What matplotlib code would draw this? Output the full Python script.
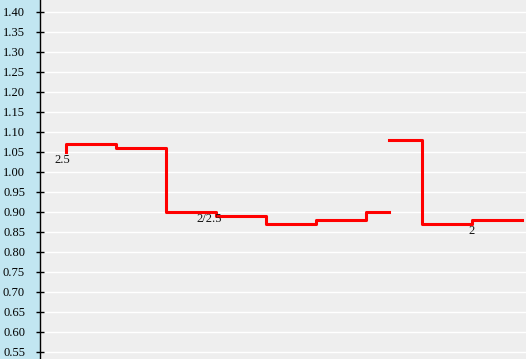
import numpy as np
import matplotlib
matplotlib.use('Agg')
import matplotlib.pyplot as plt

# ── Data ───────────────────────────────────────────────────────────────────────
# x in period units (one step = 1), y = value; drawn as 'pre' steps
x_a = [0, 1, 2, 3, 4, 5, 6, 6.46]
y_a = [1.05, 1.07, 1.06, 0.90, 0.89, 0.87, 0.88, 0.90]

x_b = [6.46, 7.12, 8.12, 9.12]
y_b = [1.08, 1.08, 0.87, 0.88]

label_text = ['2.5', '2/2.5', '2']
label_x = [0, 3, 8.12]
label_y = [1.05, 0.90, 0.87]
label_off = [(-4, -8.5), (-7, -7.5), (0, -8)]   # pixels

y_ticks = np.round(np.arange(0.55, 1.401, 0.05), 2)

# ── Figure ─────────────────────────────────────────────────────────────────────
DPI = 100
fig = plt.figure(figsize=(5.26, 3.59), dpi=DPI)
fig.patch.set_facecolor('#c2e6f1')
ax = fig.add_axes([40 / 526, 0, 486 / 526, 1])
ax.set_facecolor('#eeeeee')

ax.step(x_a, y_a, where='pre', color='#ff0000', linewidth=2.2, zorder=3)
ax.step(x_b, y_b, where='pre', color='#ff0000', linewidth=2.2, zorder=3)

for txt, lx, ly, off in zip(label_text, label_x, label_y, label_off):
    ax.annotate(txt, (lx, ly), xytext=off, textcoords='offset pixels',
                ha='center', va='center', fontsize=9,
                family='Liberation Serif', color='#111111', zorder=4)

# ── Axes formatting ───────────────────────────────────────────────────────────
ax.set_xlim(-0.52, 9.2)
ax.set_ylim(1.40 - (359 - 11.5) / 400, 1.40 + 11.5 / 400)
ax.set_yticks(y_ticks)
ax.set_yticklabels([f'{v:.2f}' for v in y_ticks], family='Liberation Serif',
                   fontsize=9)
ax.tick_params(axis='y', direction='inout', length=5.8, width=1.0,
               pad=7.9, colors='black')
ax.set_xticks([])
ax.yaxis.grid(True, color='white', linewidth=1.0, zorder=0)
ax.set_axisbelow(True)
for s in ['top', 'right', 'bottom']:
    ax.spines[s].set_visible(False)
ax.spines['left'].set_color('black')
ax.spines['left'].set_linewidth(1.0)

fig.savefig('out.png', dpi=DPI, facecolor=fig.get_facecolor())
